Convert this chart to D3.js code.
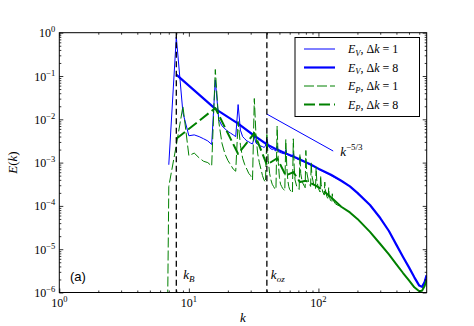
<!DOCTYPE html>
<html>
<head>
<meta charset="utf-8">
<script src="https://cdn.jsdelivr.net/npm/d3@7"></script>
<style>
body { margin: 0; background: #fff; }
text { font-family: "Liberation Serif", "DejaVu Serif", serif; fill: #000; }
</style>
</head>
<body>
<script>
// E_V, dk = 1 (thin blue): wavenumbers and log10 E
var evThinK = [7,8,9,10,11,12,13,14,15,16,17,18,19,20,21,22,23,24,25,26,27,28,29,30,31,32,33,34,35,36,37,38,39,40,41,42,43,44,45,46,47,48,49,50,52,55,56,57,60,63,64,65,70,72,73,80,90,100,120,150];
var evThinLog = [-3.05,-0.10,-1.85,-2.38,-2.36,-2.40,-2.45,-2.50,-2.58,-1.09,-2.00,-2.15,-2.22,-2.28,-2.32,-2.36,-2.40,-1.66,-2.25,-2.40,-2.45,-2.50,-2.52,-2.55,-2.57,-2.40,-2.55,-2.58,-2.60,-2.62,-2.63,-2.65,-2.62,-2.45,-2.60,-2.66,-2.68,-2.70,-2.68,-2.72,-2.73,-2.62,-2.74,-2.76,-2.78,-2.80,-2.70,-2.80,-2.84,-2.87,-2.78,-2.87,-2.93,-2.88,-2.95,-3.00,-3.08,-3.15,-3.27,-3.42];

// E_V, dk = 8 (thick blue)
var evBinK = [8,16,24,32,40,48,56,64,72,80,88,96,100,125,150,175,200,250,300,350,400,450,500,550,600,630,660,683];
var evBinLog = [-0.97,-1.76,-2.10,-2.38,-2.58,-2.70,-2.79,-2.86,-2.93,-2.99,-3.05,-3.11,-3.14,-3.28,-3.42,-3.55,-3.70,-3.98,-4.28,-4.58,-4.90,-5.18,-5.42,-5.65,-5.84,-5.87,-5.76,-5.60];

// E_P, dk = 1 (thin green); first point is zero power (below the axis)
var epThinK = [6.85,7,8,9,10,11,12,13,14,15,16,17,18,19,20,21,22,23,24,25,26,27,28,29,30,31,32,33,34,35,36,37,38,39,40,41,42,43,44,45,46,47,48,49,50,51,52,53,54,55,56,57,58,59,60,62,63,64,65,66,68,70,71,72,73,75,78,79,80,81,84,87,88,89,92,95,96,97,100,103,104,105,108,111,112,113,116,119,120,121,124,127,128,129,135,140,150];
var epThinLog = [-9,-3.55,-2.60,-1.70,-2.84,-2.78,-2.89,-2.97,-3.00,-3.08,-0.85,-2.05,-2.55,-2.80,-2.95,-3.05,-3.15,-3.20,-2.05,-2.60,-2.90,-3.05,-3.15,-3.25,-3.30,-3.40,-1.52,-2.40,-2.80,-3.00,-3.15,-3.30,-3.40,-3.45,-2.35,-2.95,-3.25,-3.40,-3.50,-3.55,-3.60,-3.62,-2.16,-3.00,-3.35,-3.50,-3.55,-3.60,-3.62,-3.65,-2.47,-3.10,-3.40,-3.55,-3.62,-3.68,-3.70,-2.45,-3.10,-3.40,-3.55,-3.60,-3.62,-2.80,-3.25,-3.45,-3.55,-3.58,-2.72,-3.20,-3.45,-3.55,-3.00,-3.30,-3.50,-3.60,-3.10,-3.40,-3.60,-3.68,-3.30,-3.50,-3.68,-3.75,-3.45,-3.62,-3.78,-3.85,-3.58,-3.75,-3.88,-3.92,-3.72,-3.85,-3.95,-3.98,-4.02];

// E_P, dk = 8 (thick green)
var epBinK = [8,16,24,32,40,48,56,64,72,80,88,96,104,125,150,175,200,250,300,350,400,450,500,550,600,630,660,683];
var epBinLog = [-2.45,-1.74,-2.80,-2.32,-3.05,-2.90,-3.30,-3.22,-3.45,-3.42,-3.48,-3.54,-3.60,-3.80,-4.02,-4.15,-4.30,-4.60,-4.88,-5.12,-5.35,-5.55,-5.72,-5.88,-5.97,-5.96,-5.85,-5.72];

// k^-5/3 guide segment
var refK = [40, 130];
var refE = [0.0132, 0.00185];

var kB = 8, kOz = 40;
var xTicks = [1, 10, 100];
var xTickExp = ["0", "1", "2"];
var yTicks = [1, 1e-1, 1e-2, 1e-3, 1e-4, 1e-5, 1e-6];
var yTickExp = ["0", "\u22121", "\u22122", "\u22123", "\u22124", "\u22125", "\u22126"];
var legendLabels = [["V", "1"], ["V", "8"], ["P", "1"], ["P", "8"]];

var W = 474, H = 326;
var plotL = 59.3, plotR = 426.7, plotT = 32.7, plotB = 292.5;

var x = d3.scaleLog().domain([1, 685]).range([plotL, plotR]);
var y = d3.scaleLog().domain([1e-6, 1]).range([plotB, plotT]);

var svg = d3.select("body").append("svg")
    .attr("width", W).attr("height", H);

svg.append("clipPath").attr("id", "clip")
  .append("rect")
    .attr("x", plotL).attr("y", plotT)
    .attr("width", plotR - plotL).attr("height", plotB - plotT);

function pairs(ks, logs) {
    return ks.map(function (k, i) { return [k, Math.pow(10, logs[i])]; });
}

var line = d3.line()
    .x(function (d) { return x(d[0]); })
    .y(function (d) { return Math.min(y(d[1]), plotB + 20); });

var series = [
    { data: pairs(evThinK, evThinLog), color: "#0000ff", w: 1, dash: null },
    { data: pairs(evBinK, evBinLog), color: "#0000ff", w: 2.2, dash: null },
    { data: pairs(epThinK, epThinLog), color: "#008000", w: 1, dash: "10,3" },
    { data: pairs(epBinK, epBinLog), color: "#008000", w: 2, dash: "11,4" }
];

var plot = svg.append("g").attr("clip-path", "url(#clip)");

function drawPath(data, s, dash) {
    plot.append("path")
        .datum(data)
        .attr("d", line)
        .attr("fill", "none")
        .attr("stroke", s.color)
        .attr("stroke-width", s.w)
        .attr("stroke-dasharray", dash)
        .attr("stroke-linejoin", "round");
}

series.forEach(function (s, i) {
    if (i === 3) {
        // the dense high-k tail of the binned curve renders as a continuous stroke
        var cut = 13;
        drawPath(s.data.slice(0, cut + 1), s, s.dash);
        drawPath(s.data.slice(cut), s, null);
    } else {
        drawPath(s.data, s, s.dash);
    }
});

// guide line
plot.append("path")
    .datum(refK.map(function (k, i) { return [k, refE[i]]; }))
    .attr("d", line)
    .attr("fill", "none")
    .attr("stroke", "#0000ff")
    .attr("stroke-width", 1);

// kB and koz markers
[kB, kOz].forEach(function (k) {
    plot.append("line")
        .attr("x1", x(k)).attr("x2", x(k))
        .attr("y1", plotT).attr("y2", plotB)
        .attr("stroke", "#000")
        .attr("stroke-width", 1.3)
        .attr("stroke-dasharray", "6,3.5");
});

// ticks (inward, all four sides)
var xMinor = [];
[1, 10, 100].forEach(function (d) {
    for (var m = 2; m <= 9; m++) if (d * m <= 685) xMinor.push(d * m);
});
var yMinor = [];
[1e-6, 1e-5, 1e-4, 1e-3, 1e-2, 1e-1].forEach(function (d) {
    for (var m = 2; m <= 9; m++) yMinor.push(d * m);
});

function tickAxis(axisFn, scale, vals, size, tr) {
    var g = svg.append("g")
        .attr("transform", tr)
        .call(axisFn(scale).tickValues(vals).tickSize(size).tickFormat(""));
    g.select(".domain").remove();
    g.selectAll("line").attr("stroke", "#000").attr("stroke-width", 0.8);
}
tickAxis(d3.axisBottom, x, xTicks, -4, "translate(0," + plotB + ")");
tickAxis(d3.axisBottom, x, xMinor, -2, "translate(0," + plotB + ")");
tickAxis(d3.axisTop, x, xTicks, -4, "translate(0," + plotT + ")");
tickAxis(d3.axisTop, x, xMinor, -2, "translate(0," + plotT + ")");
tickAxis(d3.axisLeft, y, yTicks, -4, "translate(" + plotL + ",0)");
tickAxis(d3.axisLeft, y, yMinor, -2, "translate(" + plotL + ",0)");
tickAxis(d3.axisRight, y, yTicks, -4, "translate(" + plotR + ",0)");
tickAxis(d3.axisRight, y, yMinor, -2, "translate(" + plotR + ",0)");

svg.append("rect")
    .attr("x", plotL).attr("y", plotT)
    .attr("width", plotR - plotL).attr("height", plotB - plotT)
    .attr("fill", "none").attr("stroke", "#000").attr("stroke-width", 1);

// tick labels
xTicks.forEach(function (v, i) {
    var t = svg.append("text")
        .attr("x", x(v)).attr("y", plotB + 14)
        .attr("text-anchor", "middle")
        .attr("font-size", 12);
    t.append("tspan").text("10");
    t.append("tspan").attr("dy", -5).attr("font-size", 8.5).text(xTickExp[i]);
});
yTicks.forEach(function (v, i) {
    var t = svg.append("text")
        .attr("x", plotL - 4).attr("y", y(v) + 4.5)
        .attr("text-anchor", "end")
        .attr("font-size", 12);
    t.append("tspan").text("10");
    t.append("tspan").attr("dy", -5).attr("font-size", 8.5).text(yTickExp[i]);
});

// axis labels
svg.append("text")
    .attr("transform", "translate(17," + ((plotT + plotB) / 2) + ") rotate(-90)")
    .attr("text-anchor", "middle")
    .attr("font-size", 13)
    .html('<tspan font-style="italic">E</tspan>(<tspan font-style="italic">k</tspan>)');
svg.append("text")
    .attr("x", (plotL + plotR) / 2).attr("y", 322)
    .attr("text-anchor", "middle")
    .attr("font-size", 13)
    .attr("font-style", "italic")
    .text("k");

// annotations
svg.append("text")
    .attr("x", 70).attr("y", 281)
    .style("font-family", "'Liberation Sans', Arial, sans-serif")
    .attr("font-size", 13)
    .text("(a)");

function subLabel(xp, yp, main, sub) {
    var t = svg.append("text").attr("x", xp).attr("y", yp).attr("font-size", 13);
    t.append("tspan").attr("font-style", "italic").text(main);
    t.append("tspan").attr("font-style", "italic").attr("font-size", 9).attr("dy", 3).text(sub);
}
subLabel(x(kB) + 7, 279, "k", "B");
subLabel(x(kOz) + 4, 279, "k", "oz");

var rt = svg.append("text").attr("x", x(refK[1]) + 7).attr("y", y(refE[1]) + 5).attr("font-size", 13);
rt.append("tspan").attr("font-style", "italic").text("k");
rt.append("tspan").attr("dy", -6).attr("font-size", 9).text("\u22125/3");

// legend
var lg = svg.append("g");
lg.append("rect")
    .attr("x", 295).attr("y", 37.5).attr("width", 124.5).attr("height", 79)
    .attr("fill", "#fff").attr("stroke", "#000").attr("stroke-width", 1);
var rowY = [49, 67.5, 86, 104.5];
series.forEach(function (s, i) {
    lg.append("line")
        .attr("x1", 304).attr("x2", 335)
        .attr("y1", rowY[i]).attr("y2", rowY[i])
        .attr("stroke", s.color).attr("stroke-width", s.w)
        .attr("stroke-dasharray", s.dash);
    var t = lg.append("text").attr("x", 348).attr("y", rowY[i] + 4).attr("font-size", 12);
    t.append("tspan").attr("font-style", "italic").text("E");
    t.append("tspan").attr("font-style", "italic").attr("font-size", 8.5).attr("dy", 2.5).text(legendLabels[i][0]);
    t.append("tspan").attr("dy", -2.5).text(", \u0394");
    t.append("tspan").attr("font-style", "italic").text("k");
    t.append("tspan").text(" = " + legendLabels[i][1]);
});
</script>
</body>
</html>
